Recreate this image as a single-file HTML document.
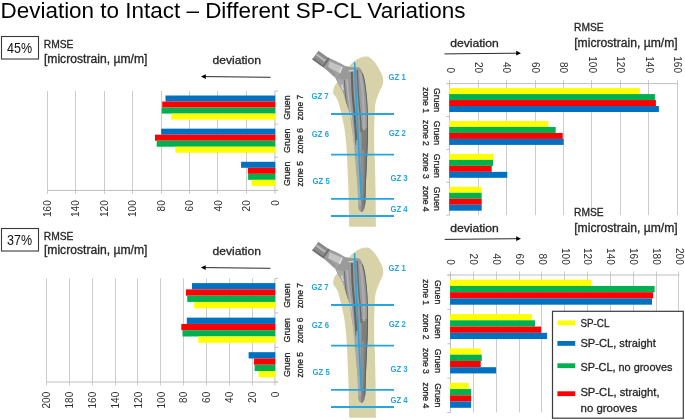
<!DOCTYPE html>
<html><head><meta charset="utf-8"><style>html,body{margin:0;padding:0;background:#fff;}svg{display:block;will-change:transform;}</style></head><body>
<svg width="685" height="420" viewBox="0 0 685 420" font-family='"Liberation Sans", sans-serif'>
<rect width="685" height="420" fill="#fff"/>
<g transform="translate(0,0)">
<path d="M351,64.1 C353,62.5 354.5,61 356.4,59.8 C359.5,58 363,56.8 366,56.6 C368,56.6 369.3,57 370.3,57.7 C372.5,59.5 374.2,61.5 375.7,63.6 C377.5,66 379,68.5 380,71.1 C381.3,73 382.1,74.6 382.6,76.4 C383.2,78.5 383.3,80.5 383.2,82.8 C382.6,85.5 381.5,88 380,90.5 C378.8,93 377.5,96.5 376.3,100 C375.6,102.5 375.1,105 374.9,108 C374.5,115 374.2,125 374.1,135 L374.2,150 L374.9,160 L375.6,193.3 L375.9,226.8 L349.2,226.8 L348.5,193.3 L347.2,160 C346.8,150 346.2,143 345.6,138 C345,132 344.3,127 343.6,124 C342.5,119 341.5,114 340.6,110.5 C339.8,107 339,104 338.2,101.5 C337,98.5 335.5,96 333.8,94.5 C333,93.5 333,92 333.2,90.5 C333.6,88.5 334,87 334.5,86 L340,78 L348,68 Z" fill="#D8D2A8"/>
<defs><linearGradient id="sg" x1="0" x2="1" y1="0" y2="0"><stop offset="0" stop-color="#969696"/><stop offset="0.15" stop-color="#b8b8b8"/><stop offset="0.3" stop-color="#a0a0a0"/><stop offset="0.4" stop-color="#7c7c7c"/><stop offset="0.5" stop-color="#a6a6a6"/><stop offset="0.62" stop-color="#9a9a9a"/><stop offset="0.72" stop-color="#767676"/><stop offset="0.84" stop-color="#acacac"/><stop offset="1" stop-color="#646464"/></linearGradient><linearGradient id="ng" x1="0" x2="0" y1="0" y2="1"><stop offset="0" stop-color="#9a9a9a"/><stop offset="0.5" stop-color="#a4a4a4"/><stop offset="1" stop-color="#8a8a8a"/></linearGradient><clipPath id="stemclip"><path d="M345.7,66.2 C349,67 352,67.3 354.3,67.3 L358.6,67.3 C359.6,67.6 360.3,68.2 360.7,68.9 C361.8,70.3 362.4,71.8 362.8,73.2 C363.8,76 364.5,79 365,81.8 C365.8,87 366.6,93 367.1,100 C367.5,105 367.7,108 367.8,112 C368,120 368,128 368,136.7 L367.4,150 L366.7,165 L365.8,185 L365.4,200 C365.2,206 364.5,210.5 362,211.9 C359.8,212 358.6,210 358.3,206.7 L357.5,185 L355.8,165 L354.6,150 L353.4,140 C352.8,135 352.3,131 351.8,128 C351.3,124 350.9,121 350.6,118.5 C349.8,114 348.5,109 347,105 C345.5,101 344.2,96 343.1,92.1 C341.8,89 340.5,87 338.9,85 C337.5,82.5 336.5,80 335.5,78.3 L341,72 Z"/></clipPath></defs>
<path d="M321.75,66.25 L328,57.5 C334,60 341,63.5 345.7,66.2 C349,67 352,67.3 355,67.3 L352,82 L345,96 L341.5,89 C339.5,85.5 337.5,81.5 335.5,78.3 C332.5,74 328,70.5 321.75,66.25 Z" fill="url(#ng)"/>
<path d="M345.7,66.2 C349,67 352,67.3 354.3,67.3 L358.6,67.3 C359.6,67.6 360.3,68.2 360.7,68.9 C361.8,70.3 362.4,71.8 362.8,73.2 C363.8,76 364.5,79 365,81.8 C365.8,87 366.6,93 367.1,100 C367.5,105 367.7,108 367.8,112 C368,120 368,128 368,136.7 L367.4,150 L366.7,165 L365.8,185 L365.4,200 C365.2,206 364.5,210.5 362,211.9 C359.8,212 358.6,210 358.3,206.7 L357.5,185 L355.8,165 L354.6,150 L353.4,140 C352.8,135 352.3,131 351.8,128 C351.3,124 350.9,121 350.6,118.5 C349.8,114 348.5,109 347,105 C345.5,101 344.2,96 343.1,92.1 C341.8,89 340.5,87 338.9,85 C337.5,82.5 336.5,80 335.5,78.3 L341,72 Z" fill="#9a9a9a"/>
<g clip-path="url(#stemclip)">
<path d="M335.5,78.3 C337.5,81.5 339.5,85 341.5,88.5 C343.2,92 344.5,96 345.6,100 L347,105 L345.4,100 C344.8,95 344.3,88 344,80 Z" fill="#a8a8a8"/>
<path d="M361.5,128 L368.5,128 L368.5,213 L361.5,213 Z" fill="#7e7e7e"/>
<path d="M361.2,150 L364,150 L363.6,175 L362.8,200 L361.5,200 Z" fill="#8e8e8e"/>
<path d="M362.8,73.2 C363.8,76 364.5,79 365,81.8 C365.8,87 366.6,93 367.1,100 C367.5,105 367.7,108 367.8,112 C368,120 368,128 368,136.7 L367.4,150 L366.7,165 L365.8,185 L365.2,205" stroke="#5e5e5e" stroke-width="1.8" fill="none"/>
<path d="M360.2,73 C361.2,78 361.8,84 362.3,90 C362.8,97 363.3,104 363.6,110 C364,118 364.1,124 364.1,130" stroke="#ababab" stroke-width="2.6" fill="none"/>
<path d="M357.2,70 C357.6,78 358,86 358.3,92 C358.8,100 359.5,108 360.2,115 C360.6,120 360.9,126 361.1,132" stroke="#6a6a6a" stroke-width="1.4" fill="none"/>
<path d="M351.8,72 C352.1,78 352.2,85 352.5,92 C352.9,98 353.5,104 354.2,110 C354.8,118 355.4,126 355.9,134 L356.5,145" stroke="#636363" stroke-width="2" fill="none"/>
<path d="M356.2,140 L358.4,140 L359.6,165 L360.5,185 L361,205 L358.5,205 L357.6,185 L356,165 Z" fill="#a9a9a9"/>
<path d="M347,79 C347.4,85 348,92 348.9,99 C349.8,106 350.8,112 351.6,118 C352.4,124 353,130 353.6,136 L354.9,150" stroke="#b4b4b4" stroke-width="1.6" fill="none"/>
<path d="M344.2,80 C344.6,86 345.2,93 345.9,99 C346.4,103 347,106 347.8,109" stroke="#6e6e6e" stroke-width="1" fill="none"/>
<path d="M341.6,84.5 L343.2,90" stroke="#e8e8e8" stroke-width="1.1" opacity="0.9"/>
<path d="M350.2,112 L351.4,118" stroke="#e0e0e0" stroke-width="1" opacity="0.8"/>
<path d="M348.5,70.8 L353.5,70.3" stroke="#e0e0e0" stroke-width="1.2" opacity="0.8"/>
</g>
<path d="M329.5,61.2 L341.3,66.4 L338.6,72.6 L328.2,67.3 Z" fill="#c4c4c4"/>
<path d="M341.3,66.4 L342.6,67 L340.2,73.2 L338.6,72.6 Z" fill="#e2e2e2"/>
<path d="M323.5,67.5 L328.2,67.3 L336,74.5 L334,77 Z" fill="#8c8c8c" opacity="0.6"/>
<path d="M312.2,59.2 L318.4,50.8 L328,57.5 L321.75,66.25 Z" fill="#8a8a8a"/>
<path d="M316.5,53.3 L315.3,55 L324.9,61.9 L326.1,60.1 Z" fill="#b8b8b8"/>
<path d="M313.1,58 L312.2,59.2 L321.75,66.25 L322.6,65 Z" fill="#6c6c6c"/>
<path d="M328,57.5 L321.75,66.25 L323.6,67.4 L329.8,58.7 Z" fill="#6f6f6f"/>
<path d="M354.6,62.3 L356.4,102 L359.2,160 L361.3,198.9" stroke="#25A6DF" stroke-width="1.6" fill="none"/>
<line x1="331.00" y1="114.00" x2="394.00" y2="114.00" stroke="#25A6DF" stroke-width="1.8"/>
<line x1="331.00" y1="154.70" x2="394.00" y2="154.70" stroke="#25A6DF" stroke-width="1.8"/>
<line x1="331.00" y1="198.90" x2="394.00" y2="198.90" stroke="#25A6DF" stroke-width="1.8"/>
<line x1="331.00" y1="216.00" x2="394.00" y2="216.00" stroke="#25A6DF" stroke-width="1.8"/>
<text x="388.5" y="79.5" font-size="8.4" font-weight="bold" fill="#25A6DF" textLength="17.2" lengthAdjust="spacingAndGlyphs">GZ 1</text>
<text x="311.4" y="99.2" font-size="8.4" font-weight="bold" fill="#25A6DF" textLength="17.2" lengthAdjust="spacingAndGlyphs">GZ 7</text>
<text x="311.8" y="137.2" font-size="8.4" font-weight="bold" fill="#25A6DF" textLength="17.2" lengthAdjust="spacingAndGlyphs">GZ 6</text>
<text x="388.7" y="135.8" font-size="8.4" font-weight="bold" fill="#25A6DF" textLength="17.2" lengthAdjust="spacingAndGlyphs">GZ 2</text>
<text x="312.6" y="183.8" font-size="8.4" font-weight="bold" fill="#25A6DF" textLength="17.2" lengthAdjust="spacingAndGlyphs">GZ 5</text>
<text x="390.4" y="180.5" font-size="8.4" font-weight="bold" fill="#25A6DF" textLength="17.2" lengthAdjust="spacingAndGlyphs">GZ 3</text>
<text x="390.4" y="211.7" font-size="8.4" font-weight="bold" fill="#25A6DF" textLength="17.2" lengthAdjust="spacingAndGlyphs">GZ 4</text>
</g>
<g transform="translate(0,191)">
<path d="M351,64.1 C353,62.5 354.5,61 356.4,59.8 C359.5,58 363,56.8 366,56.6 C368,56.6 369.3,57 370.3,57.7 C372.5,59.5 374.2,61.5 375.7,63.6 C377.5,66 379,68.5 380,71.1 C381.3,73 382.1,74.6 382.6,76.4 C383.2,78.5 383.3,80.5 383.2,82.8 C382.6,85.5 381.5,88 380,90.5 C378.8,93 377.5,96.5 376.3,100 C375.6,102.5 375.1,105 374.9,108 C374.5,115 374.2,125 374.1,135 L374.2,150 L374.9,160 L375.6,193.3 L375.9,226.8 L349.2,226.8 L348.5,193.3 L347.2,160 C346.8,150 346.2,143 345.6,138 C345,132 344.3,127 343.6,124 C342.5,119 341.5,114 340.6,110.5 C339.8,107 339,104 338.2,101.5 C337,98.5 335.5,96 333.8,94.5 C333,93.5 333,92 333.2,90.5 C333.6,88.5 334,87 334.5,86 L340,78 L348,68 Z" fill="#D8D2A8"/>
<path d="M321.75,66.25 L328,57.5 C334,60 341,63.5 345.7,66.2 C349,67 352,67.3 355,67.3 L352,82 L345,96 L341.5,89 C339.5,85.5 337.5,81.5 335.5,78.3 C332.5,74 328,70.5 321.75,66.25 Z" fill="url(#ng)"/>
<path d="M345.7,66.2 C349,67 352,67.3 354.3,67.3 L358.6,67.3 C359.6,67.6 360.3,68.2 360.7,68.9 C361.8,70.3 362.4,71.8 362.8,73.2 C363.8,76 364.5,79 365,81.8 C365.8,87 366.6,93 367.1,100 C367.5,105 367.7,108 367.8,112 C368,120 368,128 368,136.7 L367.4,150 L366.7,165 L365.8,185 L365.4,200 C365.2,206 364.5,210.5 362,211.9 C359.8,212 358.6,210 358.3,206.7 L357.5,185 L355.8,165 L354.6,150 L353.4,140 C352.8,135 352.3,131 351.8,128 C351.3,124 350.9,121 350.6,118.5 C349.8,114 348.5,109 347,105 C345.5,101 344.2,96 343.1,92.1 C341.8,89 340.5,87 338.9,85 C337.5,82.5 336.5,80 335.5,78.3 L341,72 Z" fill="#9a9a9a"/>
<g clip-path="url(#stemclip)">
<path d="M335.5,78.3 C337.5,81.5 339.5,85 341.5,88.5 C343.2,92 344.5,96 345.6,100 L347,105 L345.4,100 C344.8,95 344.3,88 344,80 Z" fill="#a8a8a8"/>
<path d="M361.5,128 L368.5,128 L368.5,213 L361.5,213 Z" fill="#7e7e7e"/>
<path d="M361.2,150 L364,150 L363.6,175 L362.8,200 L361.5,200 Z" fill="#8e8e8e"/>
<path d="M362.8,73.2 C363.8,76 364.5,79 365,81.8 C365.8,87 366.6,93 367.1,100 C367.5,105 367.7,108 367.8,112 C368,120 368,128 368,136.7 L367.4,150 L366.7,165 L365.8,185 L365.2,205" stroke="#5e5e5e" stroke-width="1.8" fill="none"/>
<path d="M360.2,73 C361.2,78 361.8,84 362.3,90 C362.8,97 363.3,104 363.6,110 C364,118 364.1,124 364.1,130" stroke="#ababab" stroke-width="2.6" fill="none"/>
<path d="M357.2,70 C357.6,78 358,86 358.3,92 C358.8,100 359.5,108 360.2,115 C360.6,120 360.9,126 361.1,132" stroke="#6a6a6a" stroke-width="1.4" fill="none"/>
<path d="M351.8,72 C352.1,78 352.2,85 352.5,92 C352.9,98 353.5,104 354.2,110 C354.8,118 355.4,126 355.9,134 L356.5,145" stroke="#636363" stroke-width="2" fill="none"/>
<path d="M356.2,140 L358.4,140 L359.6,165 L360.5,185 L361,205 L358.5,205 L357.6,185 L356,165 Z" fill="#a9a9a9"/>
<path d="M347,79 C347.4,85 348,92 348.9,99 C349.8,106 350.8,112 351.6,118 C352.4,124 353,130 353.6,136 L354.9,150" stroke="#b4b4b4" stroke-width="1.6" fill="none"/>
<path d="M344.2,80 C344.6,86 345.2,93 345.9,99 C346.4,103 347,106 347.8,109" stroke="#6e6e6e" stroke-width="1" fill="none"/>
<path d="M341.6,84.5 L343.2,90" stroke="#e8e8e8" stroke-width="1.1" opacity="0.9"/>
<path d="M350.2,112 L351.4,118" stroke="#e0e0e0" stroke-width="1" opacity="0.8"/>
<path d="M348.5,70.8 L353.5,70.3" stroke="#e0e0e0" stroke-width="1.2" opacity="0.8"/>
</g>
<path d="M329.5,61.2 L341.3,66.4 L338.6,72.6 L328.2,67.3 Z" fill="#c4c4c4"/>
<path d="M341.3,66.4 L342.6,67 L340.2,73.2 L338.6,72.6 Z" fill="#e2e2e2"/>
<path d="M323.5,67.5 L328.2,67.3 L336,74.5 L334,77 Z" fill="#8c8c8c" opacity="0.6"/>
<path d="M312.2,59.2 L318.4,50.8 L328,57.5 L321.75,66.25 Z" fill="#8a8a8a"/>
<path d="M316.5,53.3 L315.3,55 L324.9,61.9 L326.1,60.1 Z" fill="#b8b8b8"/>
<path d="M313.1,58 L312.2,59.2 L321.75,66.25 L322.6,65 Z" fill="#6c6c6c"/>
<path d="M328,57.5 L321.75,66.25 L323.6,67.4 L329.8,58.7 Z" fill="#6f6f6f"/>
<path d="M354.6,62.3 L356.4,102 L359.2,160 L361.3,198.9" stroke="#25A6DF" stroke-width="1.6" fill="none"/>
<line x1="331.00" y1="114.00" x2="394.00" y2="114.00" stroke="#25A6DF" stroke-width="1.8"/>
<line x1="331.00" y1="154.70" x2="394.00" y2="154.70" stroke="#25A6DF" stroke-width="1.8"/>
<line x1="331.00" y1="198.90" x2="394.00" y2="198.90" stroke="#25A6DF" stroke-width="1.8"/>
<line x1="331.00" y1="216.00" x2="394.00" y2="216.00" stroke="#25A6DF" stroke-width="1.8"/>
<text x="388.5" y="79.5" font-size="8.4" font-weight="bold" fill="#25A6DF" textLength="17.2" lengthAdjust="spacingAndGlyphs">GZ 1</text>
<text x="311.4" y="99.2" font-size="8.4" font-weight="bold" fill="#25A6DF" textLength="17.2" lengthAdjust="spacingAndGlyphs">GZ 7</text>
<text x="311.8" y="137.2" font-size="8.4" font-weight="bold" fill="#25A6DF" textLength="17.2" lengthAdjust="spacingAndGlyphs">GZ 6</text>
<text x="388.7" y="135.8" font-size="8.4" font-weight="bold" fill="#25A6DF" textLength="17.2" lengthAdjust="spacingAndGlyphs">GZ 2</text>
<text x="312.6" y="183.8" font-size="8.4" font-weight="bold" fill="#25A6DF" textLength="17.2" lengthAdjust="spacingAndGlyphs">GZ 5</text>
<text x="390.4" y="180.5" font-size="8.4" font-weight="bold" fill="#25A6DF" textLength="17.2" lengthAdjust="spacingAndGlyphs">GZ 3</text>
<text x="390.4" y="211.7" font-size="8.4" font-weight="bold" fill="#25A6DF" textLength="17.2" lengthAdjust="spacingAndGlyphs">GZ 4</text>
</g>
<text x="0.5" y="18.4" font-size="22.4" fill="#000" text-anchor="start" textLength="465.0" lengthAdjust="spacingAndGlyphs" >Deviation to Intact – Different SP-CL Variations</text>
<rect x="1.5" y="36.5" width="37" height="22.5" fill="#fff" stroke="#3a3a3a" stroke-width="1.1"/>
<text x="7.0" y="52.8" font-size="13.8" fill="#111" text-anchor="start" textLength="25.0" lengthAdjust="spacingAndGlyphs" >45%</text>
<text x="43.8" y="48.3" font-size="10.8" fill="#262626" stroke="#262626" stroke-width="0.3" text-anchor="start" textLength="29.6" lengthAdjust="spacingAndGlyphs" >RMSE</text>
<text x="43.9" y="62.7" font-size="12.0" fill="#262626" stroke="#262626" stroke-width="0.3" text-anchor="start" textLength="103.5" lengthAdjust="spacingAndGlyphs" >[microstrain, µm/m]</text>
<text x="212.4" y="63.8" font-size="11.5" fill="#262626" stroke="#262626" stroke-width="0.3" text-anchor="start" textLength="48.6" lengthAdjust="spacingAndGlyphs" >deviation</text>
<line x1="270.6" y1="77.3" x2="205" y2="76.6" stroke="#2a2a2a" stroke-width="1"/>
<path d="M201,76.6 L205.8,74.19999999999999 L205.8,79.0 Z" fill="#000"/>
<line x1="246.50" y1="91.00" x2="246.50" y2="193.90" stroke="#CCCCCC" stroke-width="1"/>
<line x1="217.50" y1="91.00" x2="217.50" y2="193.90" stroke="#CCCCCC" stroke-width="1"/>
<line x1="189.50" y1="91.00" x2="189.50" y2="193.90" stroke="#CCCCCC" stroke-width="1"/>
<line x1="161.50" y1="91.00" x2="161.50" y2="193.90" stroke="#CCCCCC" stroke-width="1"/>
<line x1="132.50" y1="91.00" x2="132.50" y2="193.90" stroke="#CCCCCC" stroke-width="1"/>
<line x1="104.50" y1="91.00" x2="104.50" y2="193.90" stroke="#CCCCCC" stroke-width="1"/>
<line x1="75.50" y1="91.00" x2="75.50" y2="193.90" stroke="#CCCCCC" stroke-width="1"/>
<line x1="47.50" y1="91.00" x2="47.50" y2="193.90" stroke="#CCCCCC" stroke-width="1"/>
<line x1="47.10" y1="190.40" x2="277.90" y2="190.40" stroke="#BFBFBF" stroke-width="1"/>
<line x1="274.90" y1="190.40" x2="274.90" y2="193.90" stroke="#BFBFBF" stroke-width="1"/>
<line x1="274.90" y1="91.00" x2="274.90" y2="190.40" stroke="#BFBFBF" stroke-width="1"/>
<line x1="274.90" y1="91.00" x2="278.10" y2="91.00" stroke="#BFBFBF" stroke-width="1"/>
<line x1="274.90" y1="124.13" x2="278.10" y2="124.13" stroke="#BFBFBF" stroke-width="1"/>
<line x1="274.90" y1="157.27" x2="278.10" y2="157.27" stroke="#BFBFBF" stroke-width="1"/>
<line x1="274.90" y1="190.40" x2="278.10" y2="190.40" stroke="#BFBFBF" stroke-width="1"/>
<rect x="165.50" y="95.52" width="109.80" height="6.02" fill="#0070C0"/>
<rect x="162.20" y="101.54" width="113.10" height="6.02" fill="#FF0000"/>
<rect x="161.80" y="107.57" width="113.50" height="6.02" fill="#00B050"/>
<rect x="171.20" y="113.59" width="104.10" height="6.02" fill="#FFFF00"/>
<rect x="161.20" y="128.65" width="114.10" height="6.02" fill="#0070C0"/>
<rect x="155.00" y="134.68" width="120.30" height="6.02" fill="#FF0000"/>
<rect x="156.70" y="140.70" width="118.60" height="6.02" fill="#00B050"/>
<rect x="175.20" y="146.72" width="100.10" height="6.02" fill="#FFFF00"/>
<rect x="241.10" y="161.78" width="34.20" height="6.02" fill="#0070C0"/>
<rect x="247.90" y="167.81" width="27.40" height="6.02" fill="#FF0000"/>
<rect x="248.10" y="173.83" width="27.20" height="6.02" fill="#00B050"/>
<rect x="251.70" y="179.86" width="23.60" height="6.02" fill="#FFFF00"/>
<text transform="translate(278.80,200.30) rotate(-90)" font-size="10.0" fill="#2e2e2e" text-anchor="end">0</text>
<text transform="translate(250.32,200.30) rotate(-90)" font-size="10.0" fill="#2e2e2e" text-anchor="end">20</text>
<text transform="translate(221.85,200.30) rotate(-90)" font-size="10.0" fill="#2e2e2e" text-anchor="end">40</text>
<text transform="translate(193.37,200.30) rotate(-90)" font-size="10.0" fill="#2e2e2e" text-anchor="end">60</text>
<text transform="translate(164.90,200.30) rotate(-90)" font-size="10.0" fill="#2e2e2e" text-anchor="end">80</text>
<text transform="translate(136.43,200.30) rotate(-90)" font-size="10.0" fill="#2e2e2e" text-anchor="end">100</text>
<text transform="translate(107.95,200.30) rotate(-90)" font-size="10.0" fill="#2e2e2e" text-anchor="end">120</text>
<text transform="translate(79.47,200.30) rotate(-90)" font-size="10.0" fill="#2e2e2e" text-anchor="end">140</text>
<text transform="translate(51.00,200.30) rotate(-90)" font-size="10.0" fill="#2e2e2e" text-anchor="end">160</text>
<text transform="translate(290.40,107.57) rotate(-90)" font-size="9.8" fill="#262626" stroke="#262626" stroke-width="0.3" text-anchor="middle" textLength="24.4" lengthAdjust="spacingAndGlyphs">Gruen</text>
<text transform="translate(302.50,107.57) rotate(-90)" font-size="9.8" fill="#262626" stroke="#262626" stroke-width="0.3" text-anchor="middle" textLength="25.4" lengthAdjust="spacingAndGlyphs">zone 7</text>
<text transform="translate(290.40,140.70) rotate(-90)" font-size="9.8" fill="#262626" stroke="#262626" stroke-width="0.3" text-anchor="middle" textLength="24.4" lengthAdjust="spacingAndGlyphs">Gruen</text>
<text transform="translate(302.50,140.70) rotate(-90)" font-size="9.8" fill="#262626" stroke="#262626" stroke-width="0.3" text-anchor="middle" textLength="25.4" lengthAdjust="spacingAndGlyphs">zone 6</text>
<text transform="translate(290.40,173.83) rotate(-90)" font-size="9.8" fill="#262626" stroke="#262626" stroke-width="0.3" text-anchor="middle" textLength="24.4" lengthAdjust="spacingAndGlyphs">Gruen</text>
<text transform="translate(302.50,173.83) rotate(-90)" font-size="9.8" fill="#262626" stroke="#262626" stroke-width="0.3" text-anchor="middle" textLength="25.4" lengthAdjust="spacingAndGlyphs">zone 5</text>
<text x="574.0" y="31.4" font-size="10.8" fill="#262626" stroke="#262626" stroke-width="0.3" text-anchor="start" textLength="29.6" lengthAdjust="spacingAndGlyphs" >RMSE</text>
<text x="574.2" y="46.5" font-size="12.0" fill="#262626" stroke="#262626" stroke-width="0.3" text-anchor="start" textLength="103.5" lengthAdjust="spacingAndGlyphs" >[microstrain, µm/m]</text>
<text x="450.2" y="46.6" font-size="11.5" fill="#262626" stroke="#262626" stroke-width="0.3" text-anchor="start" textLength="48.6" lengthAdjust="spacingAndGlyphs" >deviation</text>
<line x1="444.5" y1="53.9" x2="517.0" y2="53.2" stroke="#2a2a2a" stroke-width="1"/>
<path d="M521.0,53.2 L516.2,50.800000000000004 L516.2,55.6 Z" fill="#000"/>
<line x1="478.50" y1="80.10" x2="478.50" y2="215.20" stroke="#CCCCCC" stroke-width="1"/>
<line x1="506.50" y1="80.10" x2="506.50" y2="215.20" stroke="#CCCCCC" stroke-width="1"/>
<line x1="535.50" y1="80.10" x2="535.50" y2="215.20" stroke="#CCCCCC" stroke-width="1"/>
<line x1="563.50" y1="80.10" x2="563.50" y2="215.20" stroke="#CCCCCC" stroke-width="1"/>
<line x1="591.50" y1="80.10" x2="591.50" y2="215.20" stroke="#CCCCCC" stroke-width="1"/>
<line x1="620.50" y1="80.10" x2="620.50" y2="215.20" stroke="#CCCCCC" stroke-width="1"/>
<line x1="648.50" y1="80.10" x2="648.50" y2="215.20" stroke="#CCCCCC" stroke-width="1"/>
<line x1="677.50" y1="80.10" x2="677.50" y2="215.20" stroke="#CCCCCC" stroke-width="1"/>
<line x1="446.60" y1="83.60" x2="677.90" y2="83.60" stroke="#BFBFBF" stroke-width="1"/>
<line x1="449.60" y1="80.10" x2="449.60" y2="83.60" stroke="#BFBFBF" stroke-width="1"/>
<line x1="449.60" y1="83.60" x2="449.60" y2="215.20" stroke="#BFBFBF" stroke-width="1"/>
<line x1="446.40" y1="83.60" x2="449.60" y2="83.60" stroke="#BFBFBF" stroke-width="1"/>
<line x1="446.40" y1="116.50" x2="449.60" y2="116.50" stroke="#BFBFBF" stroke-width="1"/>
<line x1="446.40" y1="149.40" x2="449.60" y2="149.40" stroke="#BFBFBF" stroke-width="1"/>
<line x1="446.40" y1="182.30" x2="449.60" y2="182.30" stroke="#BFBFBF" stroke-width="1"/>
<line x1="446.40" y1="215.20" x2="449.60" y2="215.20" stroke="#BFBFBF" stroke-width="1"/>
<rect x="449.20" y="88.09" width="190.70" height="5.98" fill="#FFFF00"/>
<rect x="449.20" y="94.07" width="205.70" height="5.98" fill="#00B050"/>
<rect x="449.20" y="100.05" width="206.70" height="5.98" fill="#FF0000"/>
<rect x="449.20" y="106.03" width="209.70" height="5.98" fill="#0070C0"/>
<rect x="449.20" y="120.99" width="99.10" height="5.98" fill="#FFFF00"/>
<rect x="449.20" y="126.97" width="106.50" height="5.98" fill="#00B050"/>
<rect x="449.20" y="132.95" width="113.50" height="5.98" fill="#FF0000"/>
<rect x="449.20" y="138.93" width="114.50" height="5.98" fill="#0070C0"/>
<rect x="449.20" y="153.89" width="44.50" height="5.98" fill="#FFFF00"/>
<rect x="449.20" y="159.87" width="43.80" height="5.98" fill="#00B050"/>
<rect x="449.20" y="165.85" width="42.50" height="5.98" fill="#FF0000"/>
<rect x="449.20" y="171.83" width="58.10" height="5.98" fill="#0070C0"/>
<rect x="449.20" y="186.79" width="31.80" height="5.98" fill="#FFFF00"/>
<rect x="449.20" y="192.77" width="32.50" height="5.98" fill="#00B050"/>
<rect x="449.20" y="198.75" width="32.50" height="5.98" fill="#FF0000"/>
<rect x="449.20" y="204.73" width="32.50" height="5.98" fill="#0070C0"/>
<text transform="translate(446.50,73.00) rotate(90)" font-size="10.0" fill="#2e2e2e" text-anchor="end">0</text>
<text transform="translate(474.98,73.00) rotate(90)" font-size="10.0" fill="#2e2e2e" text-anchor="end">20</text>
<text transform="translate(503.45,73.00) rotate(90)" font-size="10.0" fill="#2e2e2e" text-anchor="end">40</text>
<text transform="translate(531.92,73.00) rotate(90)" font-size="10.0" fill="#2e2e2e" text-anchor="end">60</text>
<text transform="translate(560.40,73.00) rotate(90)" font-size="10.0" fill="#2e2e2e" text-anchor="end">80</text>
<text transform="translate(588.88,73.00) rotate(90)" font-size="10.0" fill="#2e2e2e" text-anchor="end">100</text>
<text transform="translate(617.35,73.00) rotate(90)" font-size="10.0" fill="#2e2e2e" text-anchor="end">120</text>
<text transform="translate(645.82,73.00) rotate(90)" font-size="10.0" fill="#2e2e2e" text-anchor="end">140</text>
<text transform="translate(674.30,73.00) rotate(90)" font-size="10.0" fill="#2e2e2e" text-anchor="end">160</text>
<text transform="translate(434.20,100.05) rotate(90)" font-size="9.8" fill="#262626" stroke="#262626" stroke-width="0.3" text-anchor="middle" textLength="24.2" lengthAdjust="spacingAndGlyphs">Gruen</text>
<text transform="translate(422.50,100.05) rotate(90)" font-size="9.8" fill="#262626" stroke="#262626" stroke-width="0.3" text-anchor="middle" textLength="25.7" lengthAdjust="spacingAndGlyphs">zone 1</text>
<text transform="translate(434.20,132.95) rotate(90)" font-size="9.8" fill="#262626" stroke="#262626" stroke-width="0.3" text-anchor="middle" textLength="24.2" lengthAdjust="spacingAndGlyphs">Gruen</text>
<text transform="translate(422.50,132.95) rotate(90)" font-size="9.8" fill="#262626" stroke="#262626" stroke-width="0.3" text-anchor="middle" textLength="25.7" lengthAdjust="spacingAndGlyphs">zone 2</text>
<text transform="translate(434.20,165.85) rotate(90)" font-size="9.8" fill="#262626" stroke="#262626" stroke-width="0.3" text-anchor="middle" textLength="24.2" lengthAdjust="spacingAndGlyphs">Gruen</text>
<text transform="translate(422.50,165.85) rotate(90)" font-size="9.8" fill="#262626" stroke="#262626" stroke-width="0.3" text-anchor="middle" textLength="25.7" lengthAdjust="spacingAndGlyphs">zone 3</text>
<text transform="translate(434.20,198.75) rotate(90)" font-size="9.8" fill="#262626" stroke="#262626" stroke-width="0.3" text-anchor="middle" textLength="24.2" lengthAdjust="spacingAndGlyphs">Gruen</text>
<text transform="translate(422.50,198.75) rotate(90)" font-size="9.8" fill="#262626" stroke="#262626" stroke-width="0.3" text-anchor="middle" textLength="25.7" lengthAdjust="spacingAndGlyphs">zone 4</text>
<rect x="1.5" y="228.5" width="37" height="22.5" fill="#fff" stroke="#3a3a3a" stroke-width="1.1"/>
<text x="7.0" y="244.8" font-size="13.8" fill="#111" text-anchor="start" textLength="25.0" lengthAdjust="spacingAndGlyphs" >37%</text>
<text x="43.8" y="239.8" font-size="10.8" fill="#262626" stroke="#262626" stroke-width="0.3" text-anchor="start" textLength="29.6" lengthAdjust="spacingAndGlyphs" >RMSE</text>
<text x="43.9" y="254.3" font-size="12.0" fill="#262626" stroke="#262626" stroke-width="0.3" text-anchor="start" textLength="103.5" lengthAdjust="spacingAndGlyphs" >[microstrain, µm/m]</text>
<text x="212.4" y="255.4" font-size="11.5" fill="#262626" stroke="#262626" stroke-width="0.3" text-anchor="start" textLength="48.6" lengthAdjust="spacingAndGlyphs" >deviation</text>
<line x1="270.4" y1="268.3" x2="204.9" y2="267.6" stroke="#2a2a2a" stroke-width="1"/>
<path d="M200.9,267.6 L205.70000000000002,265.20000000000005 L205.70000000000002,270.0 Z" fill="#000"/>
<line x1="252.50" y1="278.40" x2="252.50" y2="385.50" stroke="#CCCCCC" stroke-width="1"/>
<line x1="229.50" y1="278.40" x2="229.50" y2="385.50" stroke="#CCCCCC" stroke-width="1"/>
<line x1="206.50" y1="278.40" x2="206.50" y2="385.50" stroke="#CCCCCC" stroke-width="1"/>
<line x1="183.50" y1="278.40" x2="183.50" y2="385.50" stroke="#CCCCCC" stroke-width="1"/>
<line x1="160.50" y1="278.40" x2="160.50" y2="385.50" stroke="#CCCCCC" stroke-width="1"/>
<line x1="137.50" y1="278.40" x2="137.50" y2="385.50" stroke="#CCCCCC" stroke-width="1"/>
<line x1="115.50" y1="278.40" x2="115.50" y2="385.50" stroke="#CCCCCC" stroke-width="1"/>
<line x1="92.50" y1="278.40" x2="92.50" y2="385.50" stroke="#CCCCCC" stroke-width="1"/>
<line x1="69.50" y1="278.40" x2="69.50" y2="385.50" stroke="#CCCCCC" stroke-width="1"/>
<line x1="46.50" y1="278.40" x2="46.50" y2="385.50" stroke="#CCCCCC" stroke-width="1"/>
<line x1="46.50" y1="382.00" x2="277.90" y2="382.00" stroke="#BFBFBF" stroke-width="1"/>
<line x1="274.90" y1="382.00" x2="274.90" y2="385.50" stroke="#BFBFBF" stroke-width="1"/>
<line x1="274.90" y1="278.40" x2="274.90" y2="382.00" stroke="#BFBFBF" stroke-width="1"/>
<line x1="274.90" y1="278.40" x2="278.10" y2="278.40" stroke="#BFBFBF" stroke-width="1"/>
<line x1="274.90" y1="312.93" x2="278.10" y2="312.93" stroke="#BFBFBF" stroke-width="1"/>
<line x1="274.90" y1="347.47" x2="278.10" y2="347.47" stroke="#BFBFBF" stroke-width="1"/>
<line x1="274.90" y1="382.00" x2="278.10" y2="382.00" stroke="#BFBFBF" stroke-width="1"/>
<rect x="192.00" y="283.11" width="83.30" height="6.28" fill="#0070C0"/>
<rect x="186.00" y="289.39" width="89.30" height="6.28" fill="#FF0000"/>
<rect x="187.20" y="295.67" width="88.10" height="6.28" fill="#00B050"/>
<rect x="194.20" y="301.95" width="81.10" height="6.28" fill="#FFFF00"/>
<rect x="186.80" y="317.64" width="88.50" height="6.28" fill="#0070C0"/>
<rect x="181.30" y="323.92" width="94.00" height="6.28" fill="#FF0000"/>
<rect x="182.50" y="330.20" width="92.80" height="6.28" fill="#00B050"/>
<rect x="198.30" y="336.48" width="77.00" height="6.28" fill="#FFFF00"/>
<rect x="248.60" y="352.18" width="26.70" height="6.28" fill="#0070C0"/>
<rect x="254.00" y="358.45" width="21.30" height="6.28" fill="#FF0000"/>
<rect x="254.60" y="364.73" width="20.70" height="6.28" fill="#00B050"/>
<rect x="258.60" y="371.01" width="16.70" height="6.28" fill="#FFFF00"/>
<text transform="translate(278.80,391.80) rotate(-90)" font-size="10.0" fill="#2e2e2e" text-anchor="end">0</text>
<text transform="translate(255.96,391.80) rotate(-90)" font-size="10.0" fill="#2e2e2e" text-anchor="end">20</text>
<text transform="translate(233.12,391.80) rotate(-90)" font-size="10.0" fill="#2e2e2e" text-anchor="end">40</text>
<text transform="translate(210.28,391.80) rotate(-90)" font-size="10.0" fill="#2e2e2e" text-anchor="end">60</text>
<text transform="translate(187.44,391.80) rotate(-90)" font-size="10.0" fill="#2e2e2e" text-anchor="end">80</text>
<text transform="translate(164.60,391.80) rotate(-90)" font-size="10.0" fill="#2e2e2e" text-anchor="end">100</text>
<text transform="translate(141.76,391.80) rotate(-90)" font-size="10.0" fill="#2e2e2e" text-anchor="end">120</text>
<text transform="translate(118.92,391.80) rotate(-90)" font-size="10.0" fill="#2e2e2e" text-anchor="end">140</text>
<text transform="translate(96.08,391.80) rotate(-90)" font-size="10.0" fill="#2e2e2e" text-anchor="end">160</text>
<text transform="translate(73.24,391.80) rotate(-90)" font-size="10.0" fill="#2e2e2e" text-anchor="end">180</text>
<text transform="translate(50.40,391.80) rotate(-90)" font-size="10.0" fill="#2e2e2e" text-anchor="end">200</text>
<text transform="translate(290.40,295.67) rotate(-90)" font-size="9.8" fill="#262626" stroke="#262626" stroke-width="0.3" text-anchor="middle" textLength="24.4" lengthAdjust="spacingAndGlyphs">Gruen</text>
<text transform="translate(302.50,295.67) rotate(-90)" font-size="9.8" fill="#262626" stroke="#262626" stroke-width="0.3" text-anchor="middle" textLength="25.4" lengthAdjust="spacingAndGlyphs">zone 7</text>
<text transform="translate(290.40,330.20) rotate(-90)" font-size="9.8" fill="#262626" stroke="#262626" stroke-width="0.3" text-anchor="middle" textLength="24.4" lengthAdjust="spacingAndGlyphs">Gruen</text>
<text transform="translate(302.50,330.20) rotate(-90)" font-size="9.8" fill="#262626" stroke="#262626" stroke-width="0.3" text-anchor="middle" textLength="25.4" lengthAdjust="spacingAndGlyphs">zone 6</text>
<text transform="translate(290.40,364.73) rotate(-90)" font-size="9.8" fill="#262626" stroke="#262626" stroke-width="0.3" text-anchor="middle" textLength="24.4" lengthAdjust="spacingAndGlyphs">Gruen</text>
<text transform="translate(302.50,364.73) rotate(-90)" font-size="9.8" fill="#262626" stroke="#262626" stroke-width="0.3" text-anchor="middle" textLength="25.4" lengthAdjust="spacingAndGlyphs">zone 5</text>
<text x="574.0" y="216.4" font-size="10.8" fill="#262626" stroke="#262626" stroke-width="0.3" text-anchor="start" textLength="29.6" lengthAdjust="spacingAndGlyphs" >RMSE</text>
<text x="574.2" y="231.5" font-size="12.0" fill="#262626" stroke="#262626" stroke-width="0.3" text-anchor="start" textLength="103.5" lengthAdjust="spacingAndGlyphs" >[microstrain, µm/m]</text>
<text x="450.2" y="232.3" font-size="11.5" fill="#262626" stroke="#262626" stroke-width="0.3" text-anchor="start" textLength="48.6" lengthAdjust="spacingAndGlyphs" >deviation</text>
<line x1="444.7" y1="239.4" x2="517.0" y2="238.7" stroke="#2a2a2a" stroke-width="1"/>
<path d="M521.0,238.7 L516.2,236.29999999999998 L516.2,241.1 Z" fill="#000"/>
<line x1="473.50" y1="271.50" x2="473.50" y2="412.50" stroke="#CCCCCC" stroke-width="1"/>
<line x1="496.50" y1="271.50" x2="496.50" y2="412.50" stroke="#CCCCCC" stroke-width="1"/>
<line x1="519.50" y1="271.50" x2="519.50" y2="412.50" stroke="#CCCCCC" stroke-width="1"/>
<line x1="541.50" y1="271.50" x2="541.50" y2="412.50" stroke="#CCCCCC" stroke-width="1"/>
<line x1="564.50" y1="271.50" x2="564.50" y2="412.50" stroke="#CCCCCC" stroke-width="1"/>
<line x1="587.50" y1="271.50" x2="587.50" y2="412.50" stroke="#CCCCCC" stroke-width="1"/>
<line x1="610.50" y1="271.50" x2="610.50" y2="412.50" stroke="#CCCCCC" stroke-width="1"/>
<line x1="633.50" y1="271.50" x2="633.50" y2="412.50" stroke="#CCCCCC" stroke-width="1"/>
<line x1="656.50" y1="271.50" x2="656.50" y2="412.50" stroke="#CCCCCC" stroke-width="1"/>
<line x1="678.50" y1="271.50" x2="678.50" y2="412.50" stroke="#CCCCCC" stroke-width="1"/>
<line x1="447.50" y1="275.00" x2="679.40" y2="275.00" stroke="#BFBFBF" stroke-width="1"/>
<line x1="450.50" y1="271.50" x2="450.50" y2="275.00" stroke="#BFBFBF" stroke-width="1"/>
<line x1="450.50" y1="275.00" x2="450.50" y2="412.50" stroke="#BFBFBF" stroke-width="1"/>
<line x1="447.30" y1="275.00" x2="450.50" y2="275.00" stroke="#BFBFBF" stroke-width="1"/>
<line x1="447.30" y1="309.38" x2="450.50" y2="309.38" stroke="#BFBFBF" stroke-width="1"/>
<line x1="447.30" y1="343.75" x2="450.50" y2="343.75" stroke="#BFBFBF" stroke-width="1"/>
<line x1="447.30" y1="378.12" x2="450.50" y2="378.12" stroke="#BFBFBF" stroke-width="1"/>
<line x1="447.30" y1="412.50" x2="450.50" y2="412.50" stroke="#BFBFBF" stroke-width="1"/>
<rect x="450.10" y="279.69" width="140.90" height="6.25" fill="#FFFF00"/>
<rect x="450.10" y="285.94" width="204.50" height="6.25" fill="#00B050"/>
<rect x="450.10" y="292.19" width="203.00" height="6.25" fill="#FF0000"/>
<rect x="450.10" y="298.44" width="201.90" height="6.25" fill="#0070C0"/>
<rect x="450.10" y="314.06" width="82.00" height="6.25" fill="#FFFF00"/>
<rect x="450.10" y="320.31" width="84.90" height="6.25" fill="#00B050"/>
<rect x="450.10" y="326.56" width="91.00" height="6.25" fill="#FF0000"/>
<rect x="450.10" y="332.81" width="97.00" height="6.25" fill="#0070C0"/>
<rect x="450.10" y="348.44" width="30.60" height="6.25" fill="#FFFF00"/>
<rect x="450.10" y="354.69" width="31.70" height="6.25" fill="#00B050"/>
<rect x="450.10" y="360.94" width="30.60" height="6.25" fill="#FF0000"/>
<rect x="450.10" y="367.19" width="46.00" height="6.25" fill="#0070C0"/>
<rect x="450.10" y="382.81" width="18.50" height="6.25" fill="#FFFF00"/>
<rect x="450.10" y="389.06" width="21.00" height="6.25" fill="#00B050"/>
<rect x="450.10" y="395.31" width="21.00" height="6.25" fill="#FF0000"/>
<rect x="450.10" y="401.56" width="21.00" height="6.25" fill="#0070C0"/>
<text transform="translate(447.40,264.70) rotate(90)" font-size="10.0" fill="#2e2e2e" text-anchor="end">0</text>
<text transform="translate(470.24,264.70) rotate(90)" font-size="10.0" fill="#2e2e2e" text-anchor="end">20</text>
<text transform="translate(493.08,264.70) rotate(90)" font-size="10.0" fill="#2e2e2e" text-anchor="end">40</text>
<text transform="translate(515.92,264.70) rotate(90)" font-size="10.0" fill="#2e2e2e" text-anchor="end">60</text>
<text transform="translate(538.76,264.70) rotate(90)" font-size="10.0" fill="#2e2e2e" text-anchor="end">80</text>
<text transform="translate(561.60,264.70) rotate(90)" font-size="10.0" fill="#2e2e2e" text-anchor="end">100</text>
<text transform="translate(584.44,264.70) rotate(90)" font-size="10.0" fill="#2e2e2e" text-anchor="end">120</text>
<text transform="translate(607.28,264.70) rotate(90)" font-size="10.0" fill="#2e2e2e" text-anchor="end">140</text>
<text transform="translate(630.12,264.70) rotate(90)" font-size="10.0" fill="#2e2e2e" text-anchor="end">160</text>
<text transform="translate(652.96,264.70) rotate(90)" font-size="10.0" fill="#2e2e2e" text-anchor="end">180</text>
<text transform="translate(675.80,264.70) rotate(90)" font-size="10.0" fill="#2e2e2e" text-anchor="end">200</text>
<text transform="translate(435.10,292.19) rotate(90)" font-size="9.8" fill="#262626" stroke="#262626" stroke-width="0.3" text-anchor="middle" textLength="24.2" lengthAdjust="spacingAndGlyphs">Gruen</text>
<text transform="translate(423.40,292.19) rotate(90)" font-size="9.8" fill="#262626" stroke="#262626" stroke-width="0.3" text-anchor="middle" textLength="25.7" lengthAdjust="spacingAndGlyphs">zone 1</text>
<text transform="translate(435.10,326.56) rotate(90)" font-size="9.8" fill="#262626" stroke="#262626" stroke-width="0.3" text-anchor="middle" textLength="24.2" lengthAdjust="spacingAndGlyphs">Gruen</text>
<text transform="translate(423.40,326.56) rotate(90)" font-size="9.8" fill="#262626" stroke="#262626" stroke-width="0.3" text-anchor="middle" textLength="25.7" lengthAdjust="spacingAndGlyphs">zone 2</text>
<text transform="translate(435.10,360.94) rotate(90)" font-size="9.8" fill="#262626" stroke="#262626" stroke-width="0.3" text-anchor="middle" textLength="24.2" lengthAdjust="spacingAndGlyphs">Gruen</text>
<text transform="translate(423.40,360.94) rotate(90)" font-size="9.8" fill="#262626" stroke="#262626" stroke-width="0.3" text-anchor="middle" textLength="25.7" lengthAdjust="spacingAndGlyphs">zone 3</text>
<text transform="translate(435.10,395.31) rotate(90)" font-size="9.8" fill="#262626" stroke="#262626" stroke-width="0.3" text-anchor="middle" textLength="24.2" lengthAdjust="spacingAndGlyphs">Gruen</text>
<text transform="translate(423.40,395.31) rotate(90)" font-size="9.8" fill="#262626" stroke="#262626" stroke-width="0.3" text-anchor="middle" textLength="25.7" lengthAdjust="spacingAndGlyphs">zone 4</text>
<rect x="552.5" y="311.3" width="130.8" height="106.9" fill="#fff" stroke="#3a3a3a" stroke-width="1.2"/>
<rect x="557.4" y="320.4" width="17.8" height="4.8" fill="#FFFF00"/>
<text x="580.4" y="327.3" font-size="11.4" fill="#262626" stroke="#262626" stroke-width="0.3" text-anchor="start" textLength="29.0" lengthAdjust="spacingAndGlyphs" >SP-CL</text>
<rect x="557.4" y="341.0" width="17.8" height="4.8" fill="#0070C0"/>
<text x="580.4" y="346.5" font-size="11.4" fill="#262626" stroke="#262626" stroke-width="0.3" text-anchor="start" textLength="75.5" lengthAdjust="spacingAndGlyphs" >SP-CL, straight</text>
<rect x="557.4" y="363.29999999999995" width="17.8" height="4.8" fill="#00B050"/>
<text x="580.4" y="371.1" font-size="11.4" fill="#262626" stroke="#262626" stroke-width="0.3" text-anchor="start" textLength="92.0" lengthAdjust="spacingAndGlyphs" >SP-CL, no grooves</text>
<rect x="557.4" y="391.29999999999995" width="17.8" height="4.8" fill="#FF0000"/>
<text x="580.4" y="396.4" font-size="11.4" fill="#262626" stroke="#262626" stroke-width="0.3" text-anchor="start" textLength="79.2" lengthAdjust="spacingAndGlyphs" >SP-CL, straight,</text>
<text x="580.6" y="411.5" font-size="11.4" fill="#262626" stroke="#262626" stroke-width="0.3" text-anchor="start" textLength="56.5" lengthAdjust="spacingAndGlyphs" >no grooves</text>
</svg>
</body></html>
